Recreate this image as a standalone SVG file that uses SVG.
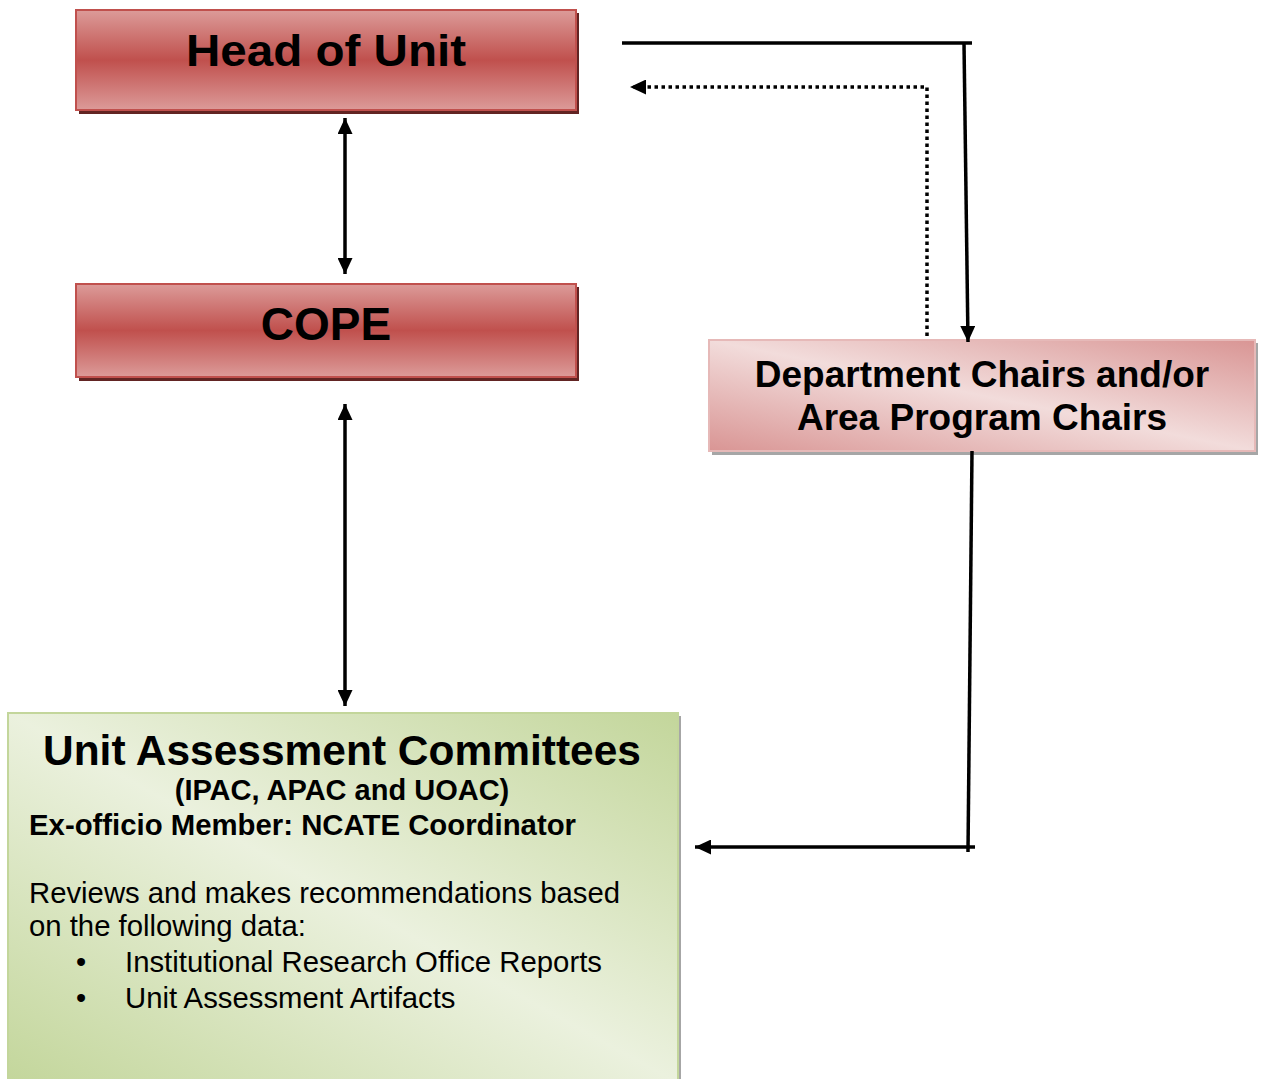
<svg xmlns="http://www.w3.org/2000/svg" width="1264" height="1079" viewBox="0 0 1264 1079">
<defs>
<linearGradient id="redV" x1="0" y1="0" x2="0" y2="1">
<stop offset="0" stop-color="#dc9b99"/>
<stop offset="0.5" stop-color="#c0504d"/>
<stop offset="1" stop-color="#dc9b99"/>
</linearGradient>
<linearGradient id="pinkD" x1="0" y1="1" x2="1" y2="0">
<stop offset="0" stop-color="#d99594"/>
<stop offset="0.5" stop-color="#f2dcdb"/>
<stop offset="1" stop-color="#d99594"/>
</linearGradient>
<linearGradient id="greenD" x1="0" y1="1" x2="1" y2="0">
<stop offset="0" stop-color="#c3d69b"/>
<stop offset="0.5" stop-color="#ebf1de"/>
<stop offset="1" stop-color="#c3d69b"/>
</linearGradient>
<marker id="ah" markerUnits="userSpaceOnUse" markerWidth="16" markerHeight="15" refX="16" refY="7.5" orient="auto-start-reverse" viewBox="0 0 16 15">
<path d="M0,0 L16,7.5 L0,15 z" fill="#000"/>
</marker>
</defs>
<style>
.t{font-family:"Liberation Sans",Arial,sans-serif;fill:#000}
.b{font-weight:bold}
.c{stroke:#000;stroke-width:3.5;fill:none}
.d{stroke:#000;stroke-width:3.5;fill:none;stroke-dasharray:3.5 3.5}
</style>
<g id="head">
<rect x="79" y="13" width="500" height="101" fill="#622423"/>
<rect x="76" y="10" width="500" height="100" fill="url(#redV)" stroke="#c0504d" stroke-width="2"/>
<text class="t b" x="326" y="66" font-size="44" text-anchor="middle" textLength="280" lengthAdjust="spacingAndGlyphs">Head of Unit</text>
</g>
<g id="cope">
<rect x="79" y="287" width="500" height="94" fill="#622423"/>
<rect x="76" y="284" width="500" height="93" fill="url(#redV)" stroke="#c0504d" stroke-width="2"/>
<text class="t b" x="326" y="340" font-size="46" text-anchor="middle">COPE</text>
</g>
<g id="dept">
<rect x="712" y="343" width="546" height="112" fill="#a6a6a6"/>
<rect x="709" y="340" width="546" height="111" fill="url(#pinkD)" stroke="#e6b9b8" stroke-width="2"/>
<text class="t b" x="982" y="387" font-size="37" text-anchor="middle">Department Chairs and/or</text>
<text class="t b" x="982" y="430" font-size="37" text-anchor="middle">Area Program Chairs</text>
</g>
<g id="uac">
<rect x="11" y="716" width="670" height="370" fill="#a6a6a6"/>
<rect x="8" y="713" width="670" height="370" fill="url(#greenD)" stroke="#c3d69b" stroke-width="2"/>
<text class="t b" x="342" y="765" font-size="42.5" text-anchor="middle" textLength="598" lengthAdjust="spacingAndGlyphs">Unit Assessment Committees</text>
<text class="t b" x="342" y="800" font-size="29" text-anchor="middle">(IPAC, APAC and UOAC)</text>
<text class="t b" x="29" y="835" font-size="29" textLength="547" lengthAdjust="spacingAndGlyphs">Ex-officio Member: NCATE Coordinator</text>
<text class="t" x="29" y="903" font-size="29.3" textLength="591" lengthAdjust="spacingAndGlyphs">Reviews and makes recommendations based</text>
<text class="t" x="29" y="936" font-size="29.3">on the following data:</text>
<text class="t" x="76" y="972" font-size="29">•</text>
<text class="t" x="125" y="972" font-size="29.3" textLength="477" lengthAdjust="spacingAndGlyphs">Institutional Research Office Reports</text>
<text class="t" x="76" y="1008" font-size="29">•</text>
<text class="t" x="125" y="1008" font-size="29.3">Unit Assessment Artifacts</text>
</g>
<g id="connectors">
<line class="c" x1="345" y1="118" x2="345" y2="274" marker-start="url(#ah)" marker-end="url(#ah)"/>
<line class="c" x1="345" y1="404" x2="345" y2="706" marker-start="url(#ah)" marker-end="url(#ah)"/>
<line class="c" x1="622" y1="43" x2="972" y2="43"/>
<line class="c" x1="964" y1="43" x2="968" y2="342" marker-end="url(#ah)"/>
<polyline class="d" points="927,336 927,87 630,87" marker-end="url(#ah)"/>
<line class="c" x1="972" y1="451" x2="968" y2="852"/>
<line class="c" x1="975" y1="847" x2="695" y2="847" marker-end="url(#ah)"/>
</g>
</svg>
